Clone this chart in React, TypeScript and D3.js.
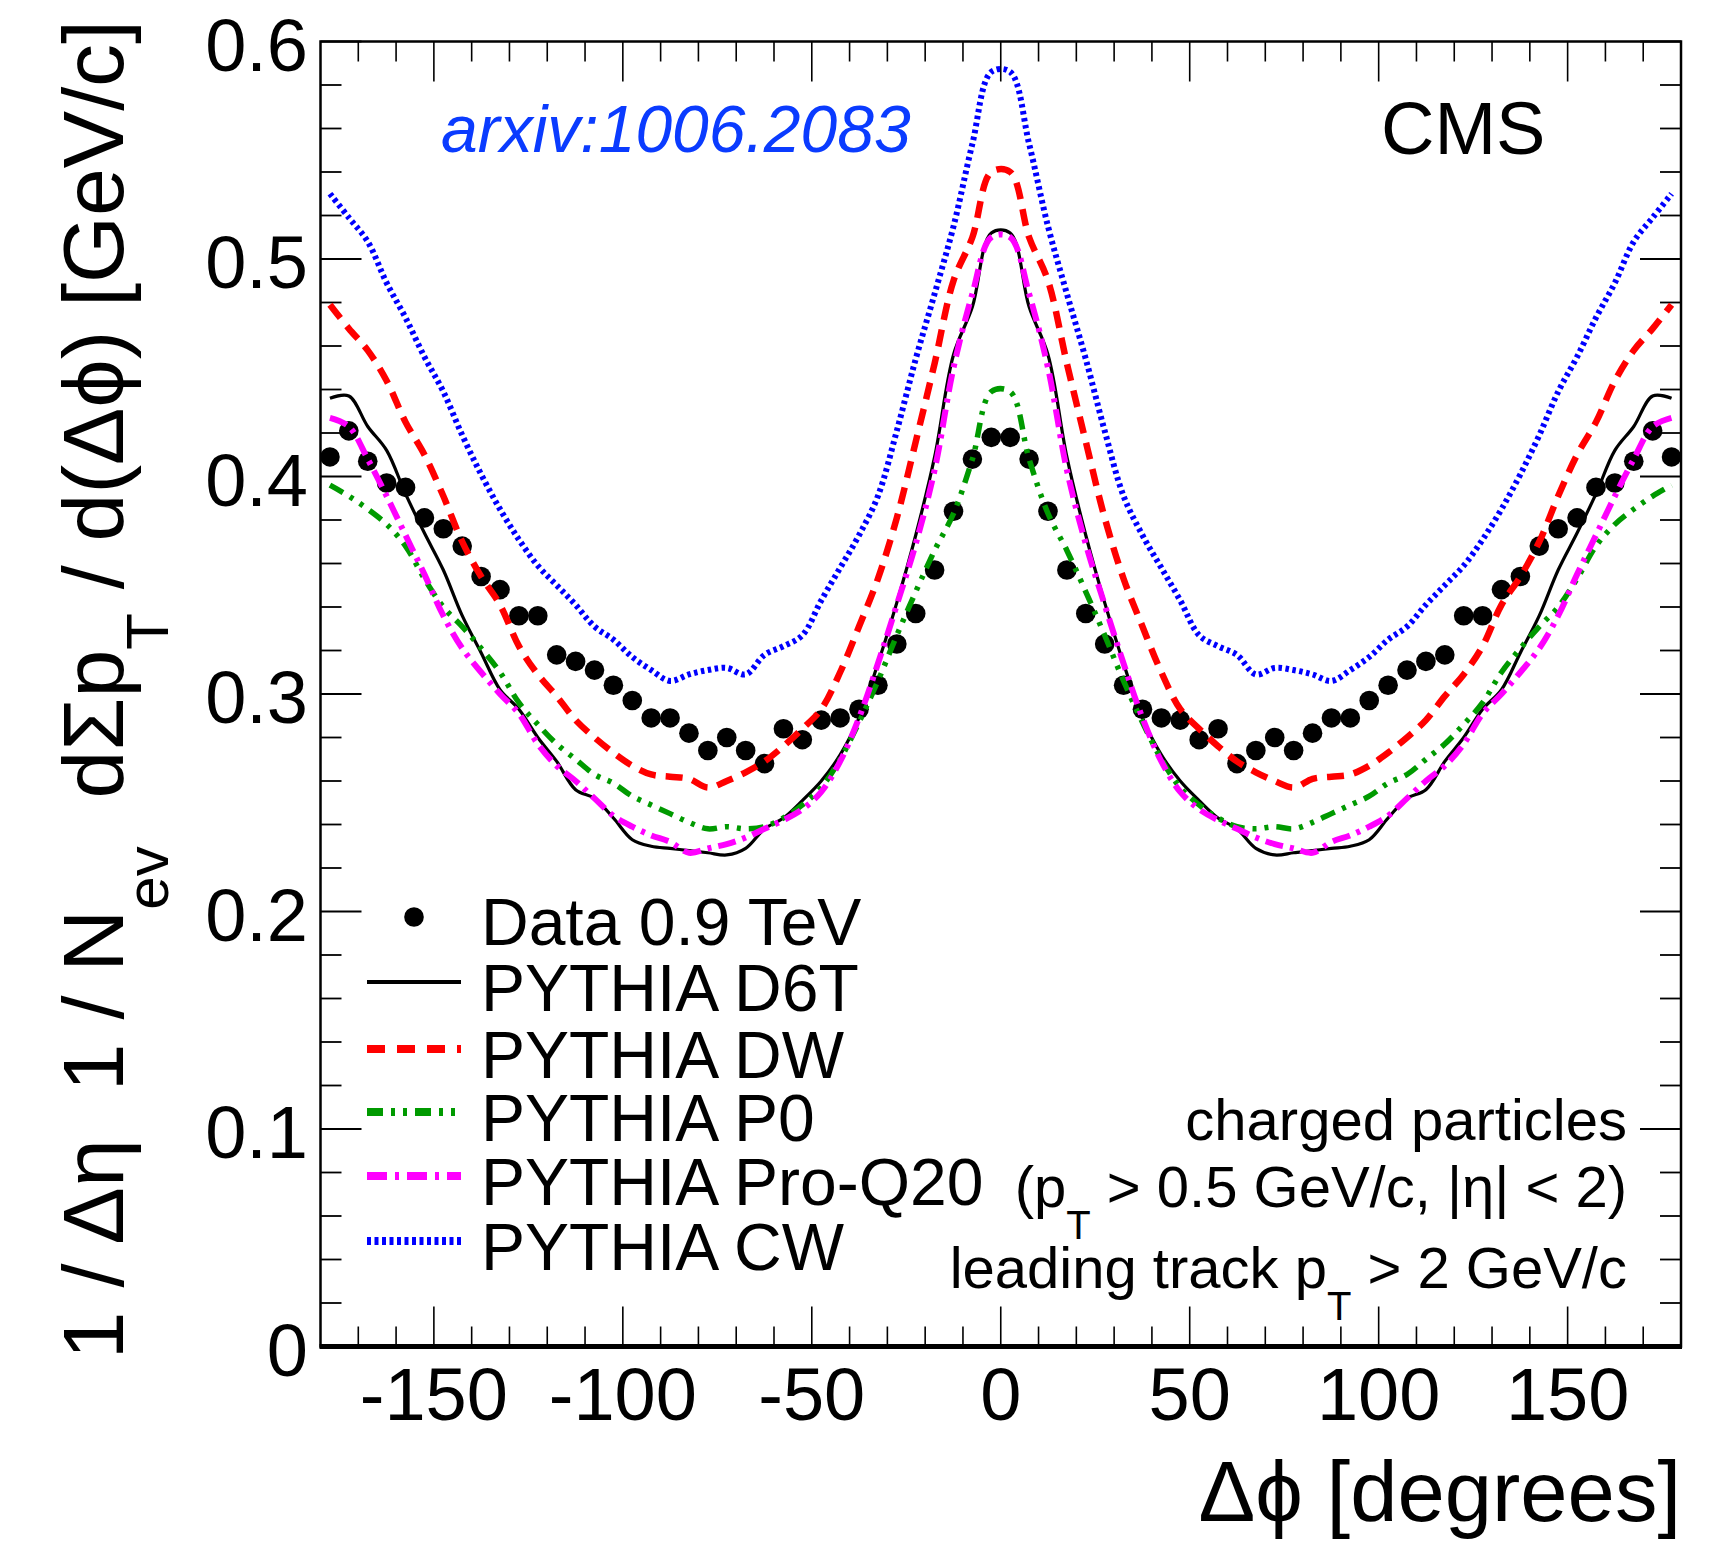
import React from 'react';
import * as d3 from 'd3';

const W = 1727;
const H = 1542;

// Bin centres of the Δφ histogram (degrees)
const binCenters = [
  -177.5, -172.5, -167.5, -162.5, -157.5, -152.5, -147.5, -142.5, -137.5, -132.5, -127.5, -122.5,
  -117.5, -112.5, -107.5, -102.5, -97.5, -92.5, -87.5, -82.5, -77.5, -72.5, -67.5, -62.5,
  -57.5, -52.5, -47.5, -42.5, -37.5, -32.5, -27.5, -22.5, -17.5, -12.5, -7.5, -2.5,
  2.5, 7.5, 12.5, 17.5, 22.5, 27.5, 32.5, 37.5, 42.5, 47.5, 52.5, 57.5,
  62.5, 67.5, 72.5, 77.5, 82.5, 87.5, 92.5, 97.5, 102.5, 107.5, 112.5, 117.5,
  122.5, 127.5, 132.5, 137.5, 142.5, 147.5, 152.5, 157.5, 162.5, 167.5, 172.5, 177.5,
];

const dataValues = [
  0.409, 0.421, 0.407, 0.397, 0.395, 0.381, 0.376, 0.368, 0.354, 0.348, 0.336, 0.336,
  0.318, 0.315, 0.311, 0.304, 0.297, 0.289, 0.289, 0.282, 0.274, 0.280, 0.274, 0.268,
  0.284, 0.279, 0.288, 0.289, 0.293, 0.304, 0.323, 0.337, 0.357, 0.384, 0.408, 0.418,
  0.418, 0.408, 0.384, 0.357, 0.337, 0.323, 0.304, 0.293, 0.289, 0.288, 0.279, 0.284,
  0.268, 0.274, 0.280, 0.274, 0.282, 0.289, 0.289, 0.297, 0.304, 0.311, 0.315, 0.318,
  0.336, 0.336, 0.348, 0.354, 0.368, 0.376, 0.381, 0.395, 0.397, 0.407, 0.421, 0.409,
];

const d6tValues = [
  0.436, 0.437, 0.423, 0.412, 0.392, 0.374, 0.357, 0.336, 0.319, 0.302, 0.293, 0.280,
  0.269, 0.256, 0.252, 0.243, 0.233, 0.230, 0.229, 0.228, 0.227, 0.226, 0.229, 0.238,
  0.243, 0.251, 0.260, 0.272, 0.289, 0.314, 0.342, 0.373, 0.409, 0.456, 0.478, 0.512,
  0.512, 0.478, 0.456, 0.409, 0.373, 0.342, 0.314, 0.289, 0.272, 0.260, 0.251, 0.243,
  0.238, 0.229, 0.226, 0.227, 0.228, 0.229, 0.230, 0.233, 0.243, 0.252, 0.256, 0.269,
  0.280, 0.293, 0.302, 0.319, 0.336, 0.357, 0.374, 0.392, 0.412, 0.423, 0.437, 0.436,
];

const dwValues = [
  0.479, 0.468, 0.458, 0.444, 0.425, 0.410, 0.391, 0.370, 0.354, 0.341, 0.322, 0.309,
  0.299, 0.288, 0.280, 0.273, 0.267, 0.263, 0.262, 0.261, 0.257, 0.260, 0.264, 0.269,
  0.276, 0.284, 0.293, 0.310, 0.331, 0.353, 0.381, 0.416, 0.452, 0.490, 0.510, 0.540,
  0.540, 0.510, 0.490, 0.452, 0.416, 0.381, 0.353, 0.331, 0.310, 0.293, 0.284, 0.276,
  0.269, 0.264, 0.260, 0.257, 0.261, 0.262, 0.263, 0.267, 0.273, 0.280, 0.288, 0.299,
  0.309, 0.322, 0.341, 0.354, 0.370, 0.391, 0.410, 0.425, 0.444, 0.458, 0.468, 0.479,
];

const p0Values = [
  0.396, 0.391, 0.385, 0.378, 0.368, 0.353, 0.340, 0.331, 0.321, 0.310, 0.296, 0.286,
  0.277, 0.270, 0.263, 0.259, 0.253, 0.249, 0.245, 0.241, 0.238, 0.239, 0.238, 0.239,
  0.243, 0.249, 0.257, 0.270, 0.287, 0.306, 0.327, 0.347, 0.366, 0.383, 0.408, 0.439,
  0.439, 0.408, 0.383, 0.366, 0.347, 0.327, 0.306, 0.287, 0.270, 0.257, 0.249, 0.243,
  0.239, 0.238, 0.239, 0.238, 0.241, 0.245, 0.249, 0.253, 0.259, 0.263, 0.270, 0.277,
  0.286, 0.296, 0.310, 0.321, 0.331, 0.340, 0.353, 0.368, 0.378, 0.385, 0.391, 0.396,
];

const proQ20Values = [
  0.427, 0.423, 0.408, 0.391, 0.373, 0.355, 0.336, 0.321, 0.310, 0.300, 0.291, 0.277,
  0.267, 0.260, 0.252, 0.244, 0.239, 0.235, 0.232, 0.227, 0.229, 0.231, 0.234, 0.238,
  0.242, 0.247, 0.255, 0.269, 0.289, 0.314, 0.341, 0.369, 0.403, 0.450, 0.484, 0.510,
  0.510, 0.484, 0.450, 0.403, 0.369, 0.341, 0.314, 0.289, 0.269, 0.255, 0.247, 0.242,
  0.238, 0.234, 0.231, 0.229, 0.227, 0.232, 0.235, 0.239, 0.244, 0.252, 0.260, 0.267,
  0.277, 0.291, 0.300, 0.310, 0.321, 0.336, 0.355, 0.373, 0.391, 0.408, 0.423, 0.427,
];

const cwValues = [
  0.530, 0.519, 0.508, 0.489, 0.473, 0.455, 0.439, 0.419, 0.401, 0.385, 0.371, 0.359,
  0.350, 0.341, 0.331, 0.325, 0.317, 0.311, 0.306, 0.309, 0.311, 0.312, 0.309, 0.318,
  0.322, 0.327, 0.343, 0.358, 0.373, 0.391, 0.421, 0.454, 0.484, 0.515, 0.553, 0.586,
  0.586, 0.553, 0.515, 0.484, 0.454, 0.421, 0.391, 0.373, 0.358, 0.343, 0.327, 0.322,
  0.318, 0.309, 0.312, 0.311, 0.309, 0.306, 0.311, 0.317, 0.325, 0.331, 0.341, 0.350,
  0.359, 0.371, 0.385, 0.401, 0.419, 0.439, 0.455, 0.473, 0.489, 0.508, 0.519, 0.530,
];

const xTickLabels = [-150, -100, -50, 0, 50, 100, 150];
const yTickLabels = ['0', '0.1', '0.2', '0.3', '0.4', '0.5', '0.6'];

const legendLabels = ['PYTHIA D6T', 'PYTHIA DW', 'PYTHIA P0', 'PYTHIA Pro-Q20', 'PYTHIA CW'];

const FONT = "'Liberation Sans', Arial, Helvetica, sans-serif";

const curveStyles = [
  { values: d6tValues, color: '#000000', width: 3.2, dash: undefined as string | undefined, legendDash: undefined as string | undefined },
  { values: dwValues, color: '#ff0000', width: 6.5, dash: '17 10', legendDash: '18 12' },
  { values: p0Values, color: '#009a00', width: 5.5, dash: '15 8 4 8 4 8', legendDash: '16 8 4 8 4 8' },
  { values: proQ20Values, color: '#ff00ff', width: 6, dash: '18 7 4 7', legendDash: '20 8 4 8' },
  { values: cwValues, color: '#0000ff', width: 6, dash: '3.5 3.5', legendDash: '4 3.5' },
];

export default function App() {
  const x = d3.scaleLinear().domain([-180, 180]).range([320.5, 1681]);
  const y = d3.scaleLinear().domain([0, 0.6]).range([1346.5, 41.5]);

  const line = d3
    .line<[number, number]>()
    .x((d) => x(d[0]))
    .y((d) => y(d[1]))
    .curve(d3.curveCatmullRom.alpha(0.5));

  const xMinor = d3.range(-170, 171, 10);
  const yMinor = d3.range(0, 31).map((i) => i * 0.02);

  const left = x(-180);
  const right = x(180);
  const top = y(0.6);
  const bottom = y(0);

  const legendX0 = 367;
  const legendX1 = 461;
  const legendTextX = 481;
  const legendBase = [1011, 1078, 1141, 1205, 1270];

  return (
    <svg
      width={W}
      height={H}
      viewBox={`0 0 ${W} ${H}`}
      style={{ position: 'absolute', left: 0, top: 0, background: '#fff' }}
      fontFamily={FONT}
    >
      <rect x={0} y={0} width={W} height={H} fill="#fff" />

      {/* frame */}
      <rect x={left} y={top} width={right - left} height={bottom - top} fill="none" stroke="#000" strokeWidth={2.5} />
      <line x1={left - 1} x2={right + 1} y1={bottom} y2={bottom} stroke="#000" strokeWidth={5} />

      {/* x ticks bottom & top */}
      {xMinor.map((v) => {
        const major = v % 50 === 0;
        const len = major ? 40 : 20;
        return (
          <g key={'xt' + v}>
            <line x1={x(v)} x2={x(v)} y1={bottom} y2={bottom - len} stroke="#000" strokeWidth={1.6} />
            <line x1={x(v)} x2={x(v)} y1={top} y2={top + len} stroke="#000" strokeWidth={1.6} />
          </g>
        );
      })}

      {/* y ticks left & right */}
      {yMinor.map((v, i) => {
        const major = i % 5 === 0;
        const len = major ? 41 : 21;
        return (
          <g key={'yt' + i}>
            <line x1={left} x2={left + len} y1={y(v)} y2={y(v)} stroke="#000" strokeWidth={1.8} />
            <line x1={right} x2={right - len} y1={y(v)} y2={y(v)} stroke="#000" strokeWidth={1.8} />
          </g>
        );
      })}

      {/* tick labels */}
      {xTickLabels.map((v) => (
        <text key={'xl' + v} x={x(v)} y={1420} fontSize={74} textAnchor="middle" fill="#000">
          {v === 0 ? '0' : String(v)}
        </text>
      ))}
      {yTickLabels.map((t) => (
        <text key={'yl' + t} x={308} y={y(parseFloat(t)) + 29} fontSize={74} textAnchor="end" fill="#000">
          {t}
        </text>
      ))}

      {/* axis titles */}
      <text x={1681} y={1521} fontSize={85} textAnchor="end" fill="#000">
        Δϕ [degrees]
      </text>
      <text
        transform="translate(123,20) rotate(-90)"
        fontSize={86}
        textAnchor="end"
        fill="#000"
        style={{ whiteSpace: 'pre' }}
      >
        <tspan>{'1 / Δη  1 / N'}</tspan>
        <tspan fontSize={60} dy={45}>ev</tspan>
        <tspan dy={-45}>{'  dΣp'}</tspan>
        <tspan fontSize={60} dy={45}>T</tspan>
        <tspan dy={-45}>{' / d(Δϕ) [GeV/c]'}</tspan>
      </text>

      {/* data points */}
      {binCenters.map((c, i) => (
        <circle key={'d' + i} cx={x(c)} cy={y(dataValues[i])} r={9.8} fill="#000" />
      ))}

      {/* MC curves */}
      {curveStyles.map((s, k) => (
        <path
          key={'c' + k}
          d={line(binCenters.map((c, i) => [c, s.values[i]] as [number, number])) || ''}
          fill="none"
          stroke={s.color}
          strokeWidth={s.width}
          strokeDasharray={s.dash}
          strokeLinejoin="round"
        />
      ))}

      {/* texts */}
      <text x={441} y={152} fontSize={66} fontStyle="italic" fill="#0a3bff">
        arxiv:1006.2083
      </text>
      <text x={1381} y={154} fontSize={74} fill="#000">
        CMS
      </text>

      {/* legend */}
      <circle cx={414} cy={917} r={9.8} fill="#000" />
      <text x={legendTextX} y={945} fontSize={66} fill="#000">
        Data 0.9 TeV
      </text>
      {legendLabels.map((lab, i) => {
        const s = curveStyles[i];
        const ly = legendBase[i] - 29;
        return (
          <g key={'lg' + i}>
            <line
              x1={legendX0}
              x2={legendX1}
              y1={ly}
              y2={ly}
              stroke={s.color}
              strokeWidth={i === 0 ? 4 : 8}
              strokeDasharray={s.legendDash}
            />
            <text x={legendTextX} y={legendBase[i]} fontSize={66} fill="#000">
              {lab}
            </text>
          </g>
        );
      })}

      {/* annotation */}
      <text x={1627} y={1140} fontSize={58} textAnchor="end" fill="#000">
        charged particles
      </text>
      <text x={1627} y={1207} fontSize={58} textAnchor="end" fill="#000" style={{ whiteSpace: 'pre' }}>
        <tspan>(p</tspan>
        <tspan fontSize={40} dy={32}>T</tspan>
        <tspan dy={-32}>{' > 0.5 GeV/c, |η| < 2)'}</tspan>
      </text>
      <text x={1627} y={1288} fontSize={58} textAnchor="end" fill="#000" style={{ whiteSpace: 'pre' }}>
        <tspan>leading track p</tspan>
        <tspan fontSize={40} dy={32}>T</tspan>
        <tspan dy={-32}>{' > 2 GeV/c'}</tspan>
      </text>
    </svg>
  );
}
